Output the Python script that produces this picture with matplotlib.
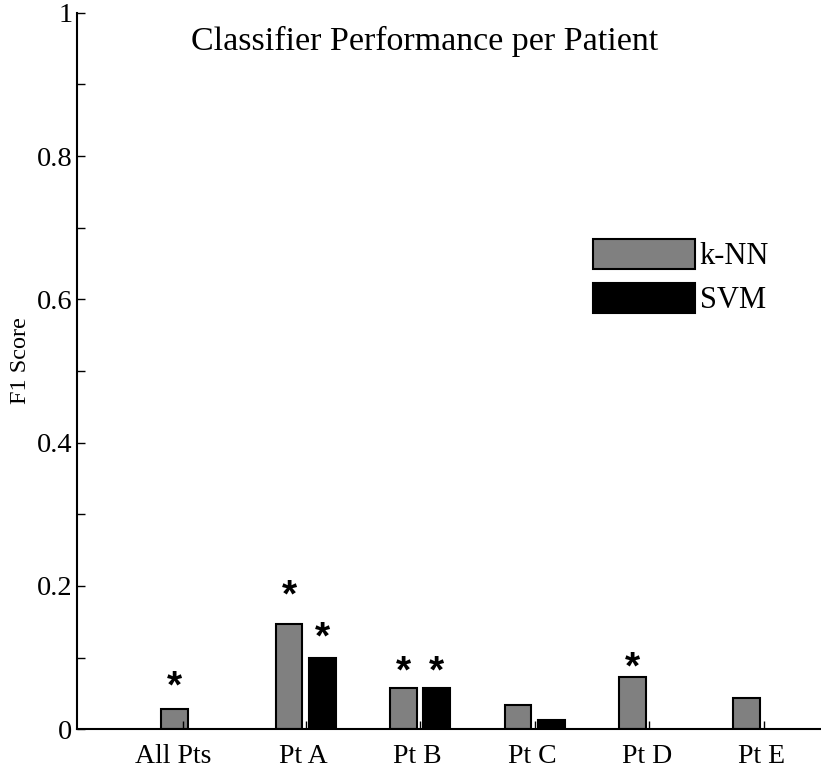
import numpy as np
import matplotlib
matplotlib.use('Agg')
import matplotlib.pyplot as plt
from matplotlib.ticker import MultipleLocator, FixedLocator, NullFormatter, FixedFormatter

# data
groups = ['All Pts', 'Pt A', 'Pt B', 'Pt C', 'Pt D', 'Pt E']
knn = [0.028, 0.147, 0.058, 0.034, 0.0725, 0.044]
svm = [np.nan, 0.100, 0.058, 0.0125, np.nan, np.nan]
# asterisk (significance) marks and their heights
knn_star = [0.070, 0.197, 0.091, None, 0.0967, None]
svm_star = [None, 0.1385, 0.091, None, None, None]

plt.rcParams['font.family'] = ['Liberation Serif', 'DejaVu Serif']

fig = plt.figure(figsize=(8.21, 7.72), dpi=100)
ax = fig.add_axes([0.0934, 0.0553, 0.9063, 0.9282])

x = np.arange(1, len(groups) + 1)
off = 0.145
w = 0.235
ax.bar(x - off, knn, w, color='#808080', edgecolor='black', linewidth=1.5, label='k-NN')
ax.bar(x + off, svm, w, color='black', edgecolor='black', linewidth=1.5, label='SVM')

for i in range(len(groups)):
    for xs, ys in ((x[i] - off, knn_star[i]), (x[i] + off, svm_star[i])):
        if ys is None:
            continue
        ax.annotate('*', xy=(xs, ys), xytext=(0, -13.5), textcoords='offset points',
                    ha='center', va='baseline', fontsize=28, fontweight='bold',
                    family='Liberation Sans')

ax.set_xlim(0, 6.5)
ax.set_ylim(0, 1)

ax.xaxis.remove_overlapping_locs = False
# labels on major ticks (no mark), tick marks as minor ticks
lab_pos = x.astype(float) - 0.02
lab_pos[0] = 0.84
ax.xaxis.set_major_locator(FixedLocator(lab_pos))
ax.xaxis.set_major_formatter(FixedFormatter(groups))
# the 'All Pts' mark sits a bit left of the group centre
tick_pos = x.astype(float)
tick_pos[0] -= 0.07
ax.xaxis.set_minor_locator(FixedLocator(tick_pos))
ax.xaxis.set_minor_formatter(NullFormatter())

ax.set_yticks([0, 0.2, 0.4, 0.6, 0.8, 1])
ax.set_yticklabels(['0', '0.2', '0.4', '0.6', '0.8', '1'])
ax.yaxis.set_minor_locator(MultipleLocator(0.1))

ax.tick_params(axis='both', which='both', direction='in', width=1.0, length=5.5)
ax.tick_params(axis='y', which='both', pad=3, labelsize=20.5)
ax.tick_params(axis='x', which='major', length=0, pad=10.5, labelsize=20)

for s in ['top', 'right']:
    ax.spines[s].set_visible(False)
for s in ['left', 'bottom']:
    ax.spines[s].set_linewidth(1.5)

ax.set_ylabel('F1 Score', fontsize=17.5)
ax.yaxis.set_label_coords(-0.062, 0.515)

ax.text(0.467, 0.948, 'Classifier Performance per Patient', transform=ax.transAxes,
        ha='center', va='baseline', fontsize=24.5)

ax.legend(loc='upper left', bbox_to_anchor=(0.6935, 0.684), frameon=False,
          fontsize=22, handlelength=3.35, handleheight=1.12, handletextpad=0.15,
          labelspacing=0.38, borderpad=0, borderaxespad=0)

fig.savefig('out.png', dpi=100)
